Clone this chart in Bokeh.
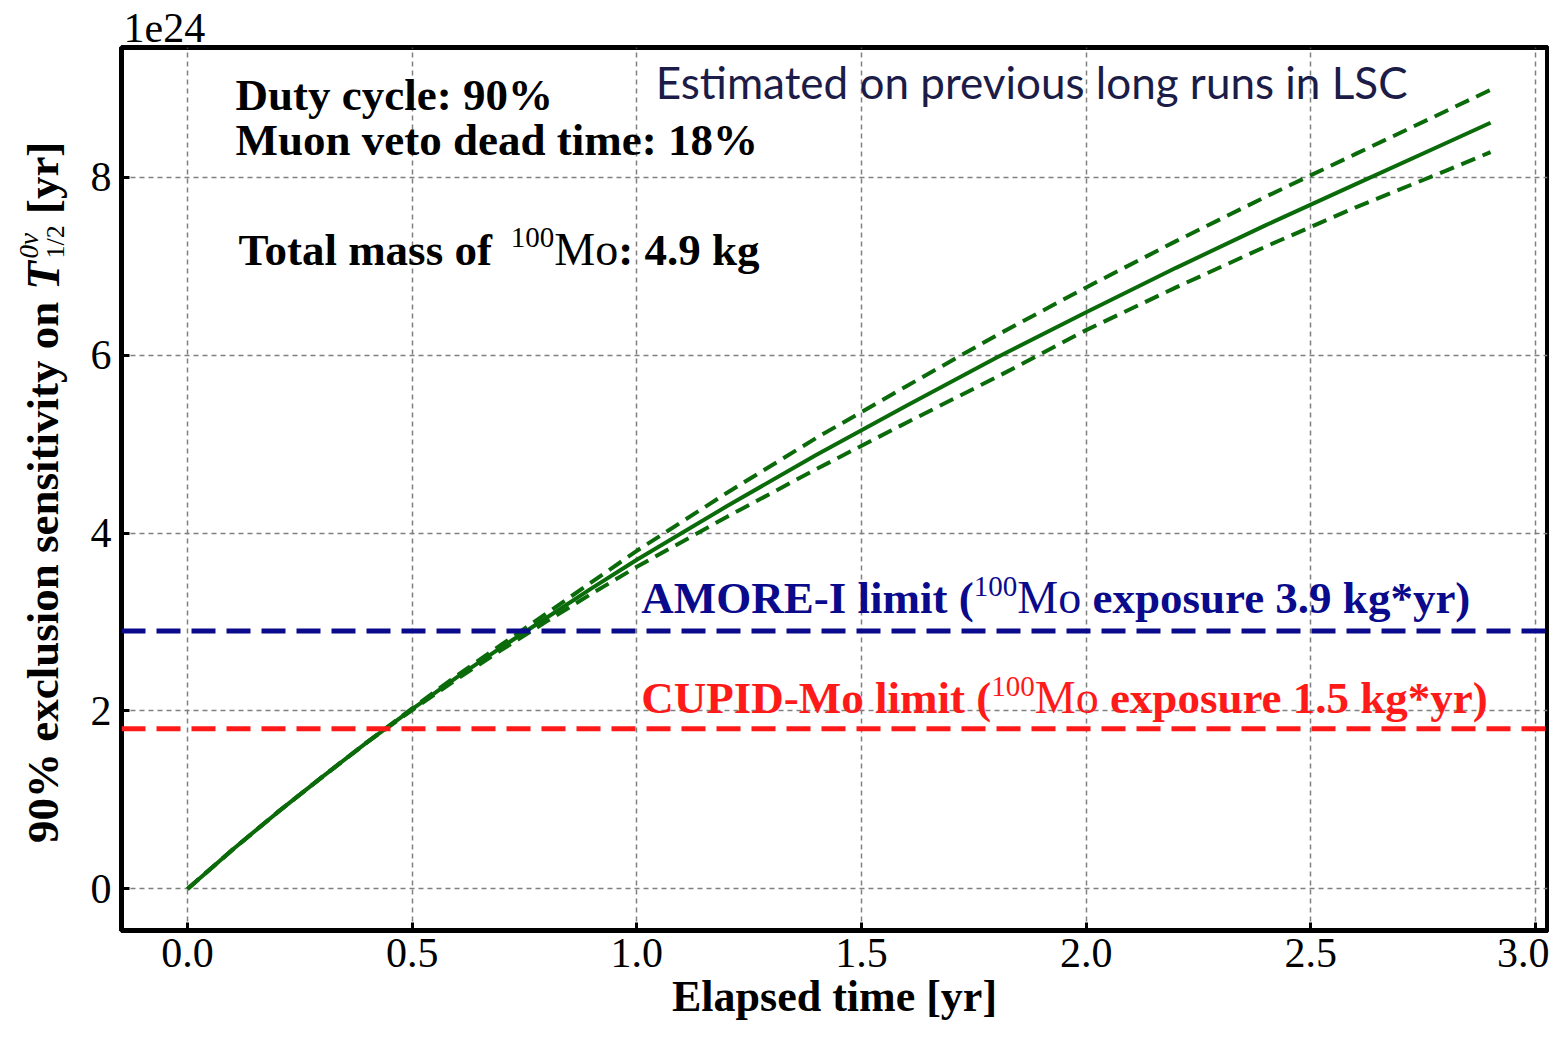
import math
from bokeh.plotting import figure
from bokeh.layouts import row
from bokeh.models import Label, Span, FixedTicker, NumeralTickFormatter
from bokeh.embed import file_html
from bokeh.resources import INLINE

# ---- data ----
elapsed_yr = [0.0, 0.1, 0.2, 0.3, 0.4, 0.5, 0.6, 0.7, 0.8, 0.9, 1.0, 1.2, 1.4,
              1.6, 1.8, 2.0, 2.2, 2.4, 2.6, 2.8, 2.9]
sens_central = [0.0, 0.44, 0.86, 1.26, 1.65, 2.02, 2.38, 2.72, 3.05, 3.38, 3.70,
                4.30, 4.88, 5.43, 5.97, 6.48, 6.98, 7.46, 7.92, 8.38, 8.61]
sens_upper = [0.0, 0.44, 0.86, 1.26, 1.65, 2.03, 2.40, 2.75, 3.10, 3.45, 3.80,
              4.45, 5.07, 5.65, 6.22, 6.76, 7.28, 7.78, 8.26, 8.74, 8.98]
sens_lower = [0.0, 0.44, 0.86, 1.26, 1.65, 2.01, 2.36, 2.69, 3.01, 3.32, 3.62,
              4.18, 4.72, 5.24, 5.75, 6.28, 6.76, 7.22, 7.66, 8.07, 8.28]
limit_names = ["AMORE-I", "CUPID-Mo"]
limit_values = [2.9, 1.8]
limit_exposures = ["3.9", "1.5"]
x_ticks = [0.0, 0.5, 1.0, 1.5, 2.0, 2.5, 3.0]
y_ticks = [0, 2, 4, 6, 8]

SERIF = "Liberation Serif"
GREEN = "#0b6b0b"
X0, X1 = -0.1469, 3.0267
Y0, Y1 = -0.467, 9.456
H = 1028
LW = 81            # width of the strip holding the y-axis title
TOP, BOTTOM = 47, 98

p = figure(width=1549 - LW, height=H, output_backend="svg", toolbar_location=None,
           x_range=(X0, X1), y_range=(Y0, Y1),
           min_border_left=40, min_border_right=2, min_border_top=TOP,
           min_border_bottom=BOTTOM)
p.background_fill_color = "white"
p.border_fill_color = "white"
p.outline_line_color = "black"
p.outline_line_width = 5

p.title.text = "1e24"
p.title.align = "left"
p.title.text_font = SERIF
p.title.text_font_size = "42px"
p.title.text_font_style = "normal"
p.title.text_color = "black"
p.title.standoff = 11
p.title.text_line_height = 0.8
p.title.offset = 2

for g in (p.xgrid, p.ygrid):
    g.grid_line_color = "#808080"
    g.grid_line_dash = "5 4"
    g.grid_line_width = 1.5
p.xgrid.ticker = FixedTicker(ticks=x_ticks)
p.ygrid.ticker = FixedTicker(ticks=y_ticks)

p.xaxis.ticker = FixedTicker(ticks=x_ticks)
p.yaxis.ticker = FixedTicker(ticks=y_ticks)
p.xaxis.formatter = NumeralTickFormatter(format="0.0")
for ax in (p.xaxis, p.yaxis):
    ax.axis_line_color = "black"
    ax.axis_line_width = 5
    ax.major_tick_in = 8
    ax.major_tick_out = 0
    ax.major_tick_line_width = 3
    ax.minor_tick_line_color = None
    ax.major_label_text_font = SERIF
    ax.major_label_text_font_size = "42px"
    ax.major_label_text_color = "black"
p.xaxis.major_label_standoff = 8
p.yaxis.major_label_standoff = 10
p.xaxis.axis_label = "Elapsed time [yr]"
p.xaxis.axis_label_text_font = SERIF
p.xaxis.axis_label_text_font_style = "bold"
p.xaxis.axis_label_text_font_size = "44px"
p.xaxis.axis_label_text_color = "black"
p.xaxis.axis_label_standoff = 2

# limit lines
limit_colors = ["#0a0a8c", "#ff1a1a"]
for val, col in zip(limit_values, limit_colors):
    p.add_layout(Span(location=val, dimension="width", line_color=col,
                      line_width=5, line_dash="24 11"))

# sensitivity curves
p.line(elapsed_yr, sens_upper, line_color=GREEN, line_width=4, line_dash="15 8")
p.line(elapsed_yr, sens_lower, line_color=GREEN, line_width=4, line_dash="15 8")
p.line(elapsed_yr, sens_central, line_color=GREEN, line_width=4)

# ---- rich text helpers (Times-compatible advance widths, 1/1000 em) ----
_R = dict(zip(" %()*-./0123456789:ACDEIMOPRTUaceghiklmnoprstuvxy[]",
              [250, 833, 333, 333, 500, 333, 250, 278] + [500] * 10 +
              [278, 722, 667, 722, 611, 333, 889, 722, 556, 667, 611, 722,
               444, 444, 444, 500, 500, 278, 500, 278, 778, 500, 500, 500, 333,
               389, 278, 500, 500, 500, 500, 333, 333]))
_B = dict(zip(" %()*-./0123456789:ACDEIMOPRTUaceghiklmnoprstuvxy[]",
              [250, 1000, 333, 333, 500, 333, 250, 278] + [500] * 10 +
              [333, 722, 722, 722, 667, 389, 944, 778, 611, 722, 667, 722,
               500, 444, 444, 500, 556, 278, 556, 278, 833, 556, 500, 556, 444,
               389, 333, 556, 500, 500, 500, 333, 333]))
BASE_FIX = 0.34  # em shift observed for alphabetic baseline


def tw(s, style):
    tab = _B if "bold" in style else _R
    return sum(tab.get(c, 500) for c in s) / 1000.0


def rich(fig, x, y, runs, color, angle=0.0, x0=0.0, y0=0.0, font=SERIF):
    """runs: (text, size_px, style, rise_px, advances)"""
    adv = 0.0
    for text, size, style, rise, advances in runs:
        lead = len(text) - len(text.lstrip(" "))
        adv += lead * tw(" ", style) * size
        body = text.strip(" ")
        fix = BASE_FIX * size
        if angle == 0:
            xo, yo = x0 + adv, y0 + rise + fix
        else:
            xo, yo = x0 - rise - fix, y0 + adv
        fig.add_layout(Label(x=x, y=y, x_offset=xo, y_offset=yo, text=body,
                             angle=angle, text_color=color, text_font=font,
                             text_font_size=f"{size}px", text_font_style=style,
                             text_baseline="alphabetic", text_align="left"))
        if advances:
            adv += tw(text.lstrip(" "), style) * size


S = 45
rich(p, 0.107, 8.753, [("Duty cycle: 90%", S, "bold", 0, True)], "black")
rich(p, 0.107, 8.24, [("Muon veto dead time: 18%", S, "bold", 0, True)], "black")
rich(p, 0.1135, 7.01, [("Total mass of", S, "bold", 0, True),
                       (" 100", 29, "normal", 18, True),
                       ("Mo", 46, "normal", 0, True),
                       (": 4.9 kg", S, "bold", 0, True)], "black")

p.add_layout(Label(x=1.042, y=8.898, y_offset=BASE_FIX * 44,
                   text="Estimated on previous long runs in LSC",
                   text_color="#1c1c48", text_font="Lato", text_font_size="44px",
                   text_baseline="alphabetic", text_align="left"))

L = 45
limit_text_y = [3.094, 1.977]
for name, expo, col, ty in zip(limit_names, limit_exposures, limit_colors, limit_text_y):
    rich(p, 1.010, ty, [(f"{name} limit (", L, "bold", 0, True),
                        ("100", 29, "normal", 17, True),
                        ("Mo", 46, "normal", 0, True),
                        (f" exposure {expo} kg*yr)", L, "bold", 0, True)], col)

# ---- strip to the left holding the y-axis title (rich text) ----
side = figure(width=LW, height=H, output_backend="svg", toolbar_location=None,
              x_range=(0, LW), y_range=(0, H), min_border=0,
              x_axis_location=None, y_axis_location=None)
side.outline_line_color = None
side.xgrid.visible = False
side.ygrid.visible = False
side.background_fill_color = "white"
side.border_fill_color = "white"

A = 45
ylab_runs = [("90% exclusion sensitivity on", A, "bold", 0, True),
             (" T", A + 2, "bold italic", 0, True),
             ("0\u03bd", 27, "italic", 20, False),
             ("1/2", 26, "normal", -6, True),
             (" [yr]", A, "bold", 0, True)]
ylen = (tw(ylab_runs[0][0], "bold") * A + tw(" ", "bold") * A + 0.611 * (A + 2) +
        tw("1/2", "normal") * 26 + tw(" [yr]", "bold") * A)
label_center_from_bottom = H - 495      # centre of the title, as in the picture
rich(side, 58, label_center_from_bottom - ylen / 2 - 82, ylab_runs, "black",
     angle=math.pi / 2)

layout = row(side, p)
open("out.html", "w").write(file_html(layout, INLINE))
